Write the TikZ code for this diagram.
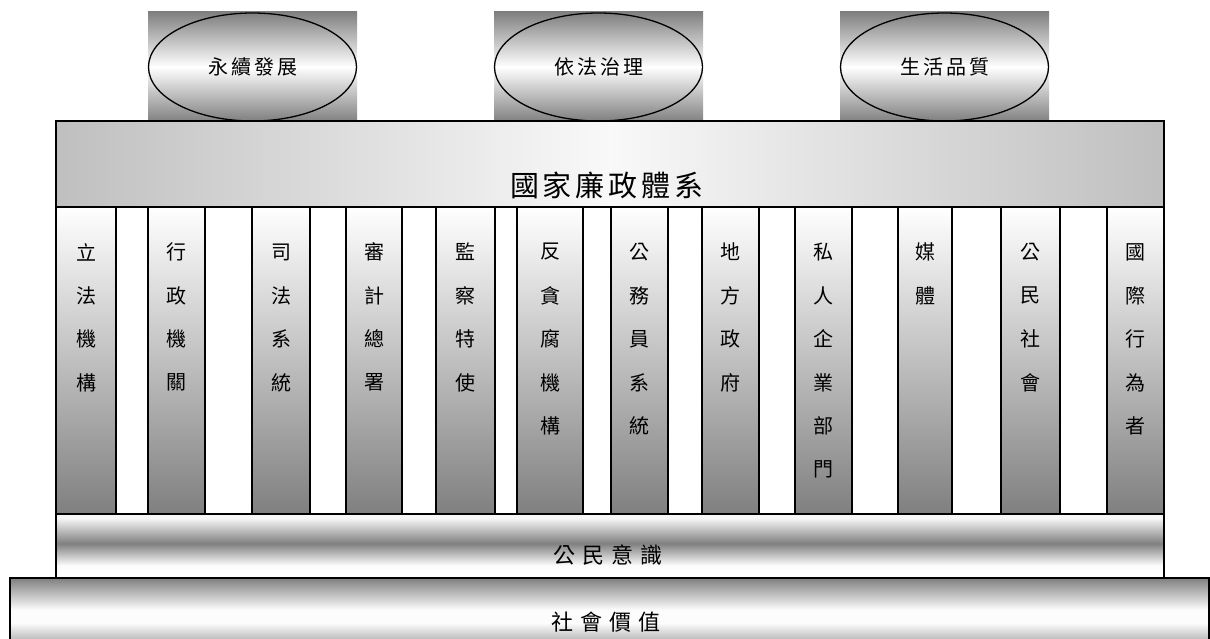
\documentclass[tikz,border=0pt]{standalone}
\usepackage{fontspec}
\newfontfamily\cjk{Noto Sans CJK TC}
\usetikzlibrary{shapes.geometric}
\pgfdeclareverticalshading{civicshade}{100bp}{color(0bp)=(white); color(25bp)=(white); color(35bp)=(white!97!gray); color(52bp)=(gray); color(72bp)=(white!94!gray); color(100bp)=(white!94!gray)}
\pgfdeclareverticalshading{socialshade}{100bp}{color(0bp)=(gray!60); color(25bp)=(gray!60); color(40bp)=(white!98!gray); color(50bp)=(white!98!gray); color(75bp)=(gray); color(100bp)=(gray)}
\newcommand\lsp[1]{\hspace{#1}}
\tikzset{
  topbox/.style={top color=gray, bottom color=gray, middle color=white, draw=none},
  topell/.style={ellipse, draw=black, line width=1.3pt, top color=gray, bottom color=gray, middle color=white,
    minimum width=208pt, minimum height=108pt, inner sep=0pt, font=\cjk\fontsize{20}{24}\selectfont},
  mainbar/.style={draw=black, line width=1.2pt, left color=gray!50, right color=gray!50, middle color=white!95!gray},
  pillar/.style={draw=black, line width=1.2pt, top color=white, bottom color=gray},
  gapbox/.style={draw=black, line width=1.2pt, fill=white},
  civicbar/.style={draw=black, line width=1.2pt, shading=civicshade},
  socialbar/.style={draw=black, line width=1.2pt, shading=socialshade},
  pchar/.style={inner sep=0pt, font=\cjk\fontsize{20}{24}\selectfont},
  bigtext/.style={inner sep=0pt, font=\cjk\fontsize{29}{34}\selectfont},
  bartext/.style={inner sep=0pt, font=\cjk\fontsize{22}{26}\selectfont}
}
\begin{document}
\begin{tikzpicture}[x=1pt,y=-1pt]
\useasboundingbox (0,0) rectangle (1210,639);
% top boxes with ellipses
\foreach \xa/\xb/\n/\t in {148/357/1/永\lsp{3pt}續\lsp{3pt}發\lsp{3pt}展, 494/703/2/依\lsp{3pt}法\lsp{3pt}治\lsp{3pt}理, 840/1049/3/生\lsp{3pt}活\lsp{3pt}品\lsp{3pt}質}{
  \path[topbox] (\xa,12) rectangle (\xb,122);
  \node[topell] (e\n) at ({(\xa+\xb)/2},67) {\raisebox{-3pt}{\t}};
}
% main bar
\draw[mainbar] (56,121) rectangle (1164,207);
\node[bigtext] (title) at (607,185) {國\lsp{4pt}家\lsp{4pt}廉\lsp{4pt}政\lsp{4pt}體\lsp{4pt}系};
% pillar area background (gaps)
\draw[gapbox] (56,207) rectangle (1164,514);
% pillars
\foreach \xa/\xb/\n/\chars in {
  56/116/1/{立,法,機,構},
  148/205/2/{行,政,機,關},
  252/310/3/{司,法,系,統},
  346/402/4/{審,計,總,署},
  436/495/5/{監,察,特,使},
  517/583/6/{反,貪,腐,機,構},
  611/668/7/{公,務,員,系,統},
  702/759/8/{地,方,政,府},
  795/852/9/{私,人,企,業,部,門},
  898/952/10/{媒,體},
  1001/1060/11/{公,民,社,會},
  1107/1164/12/{國,際,行,為,者}}{
  \draw[pillar] (\xa,207) rectangle (\xb,514);
  \foreach \c [count=\i] in \chars {
    \node[pchar] (p\n c\i) at ({(\xa+\xb)/2},{252+43.5*(\i-1)}) {\c};
  }
}
% civic awareness bar
\draw[civicbar] (56,514) rectangle (1164,578);
\node[bartext] (civic) at (608,555) {公\lsp{7pt}民\lsp{7pt}意\lsp{7pt}識};
% social value bar
\draw[socialbar] (10,578) rectangle (1209,642);
\node[bartext] (social) at (606,622) {社\lsp{7pt}會\lsp{7pt}價\lsp{7pt}值};
\end{tikzpicture}
\end{document}
